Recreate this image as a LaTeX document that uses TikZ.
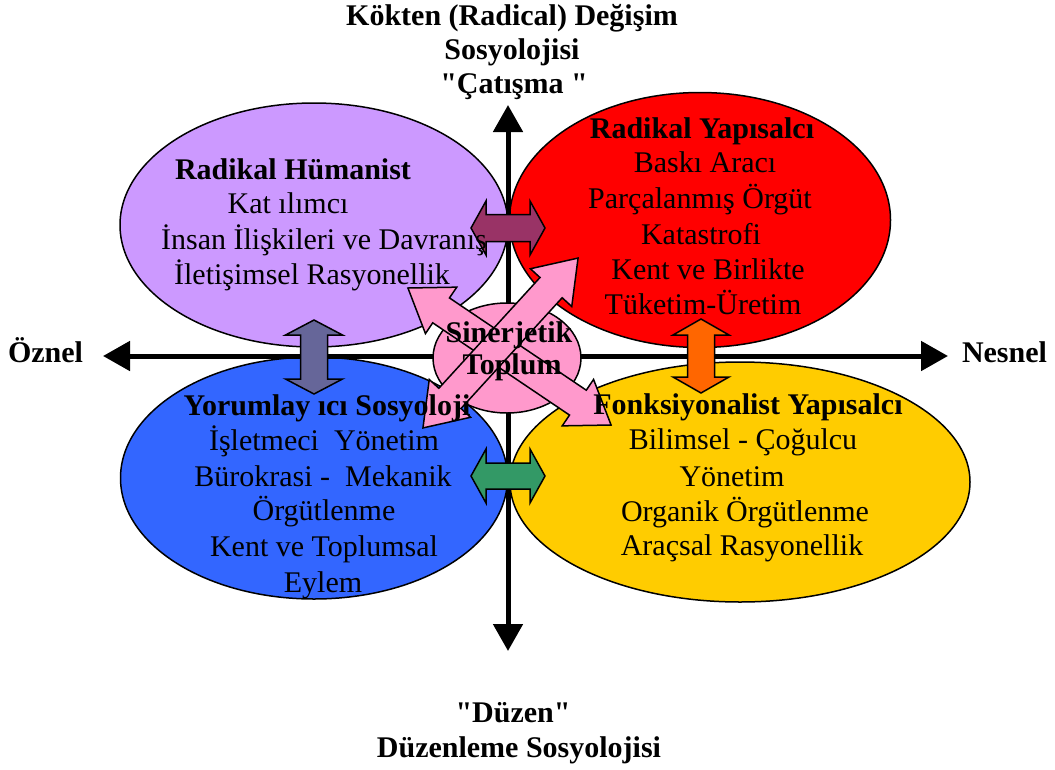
\documentclass[tikz,border=0pt]{standalone}
\usepackage{fontspec}
\setmainfont{Liberation Serif}[Ligatures=TeXOff]
\usetikzlibrary{arrows.meta,shapes.geometric}
\definecolor{cPurple}{HTML}{CC99FF}
\definecolor{cRed}{HTML}{FF0000}
\definecolor{cBlue}{HTML}{3366FF}
\definecolor{cYellow}{HTML}{FFCC00}
\definecolor{cPink}{HTML}{FF99CC}
\definecolor{cMaroon}{HTML}{993366}
\definecolor{cSlate}{HTML}{666699}
\definecolor{cGreen}{HTML}{339966}
\definecolor{cOrange}{HTML}{FF6600}
\tikzset{
  blob/.style={ellipse, draw=black, line width=1.5pt, inner sep=0pt},
  barrow/.style={draw=black, line width=1.5pt, line join=miter},
  axisline/.style={line width=5pt, {Triangle[width=29pt,length=27pt]}-{Triangle[width=29pt,length=27pt]}},
  lbl/.style={anchor=base, inner sep=0pt},
  ttl/.style={lbl, font=\fontsize{30}{35}\selectfont\bfseries},
}
% #1 centre, #2 angle, #3 half length, #4 head length, #5 head half width, #6 shaft half width, #7 colour
\newcommand\myblockarrow[7]{%
  \begin{scope}[shift={#1}, rotate=#2]
    \draw[barrow, fill=#7] (-#3,0) -- (-#3+#4,#5) -- (-#3+#4,#6) -- (#3-#4,#6) -- (#3-#4,#5)
      -- (#3,0) -- (#3-#4,-#5) -- (#3-#4,-#6) -- (-#3+#4,-#6) -- (-#3+#4,-#5) -- cycle;
  \end{scope}}
\begin{document}
\begin{tikzpicture}[x=1pt, y=-1pt, font=\fontsize{30}{35}\selectfont]
\useasboundingbox[fill=white] (0,0) rectangle (1055,769);

% quadrant ellipses
\node[blob, fill=cPurple, minimum width=388pt, minimum height=244pt] (hum) at (314,225) {};
\node[blob, fill=cRed, minimum width=381pt, minimum height=255pt] (rad) at (700,220) {};
\node[blob, fill=cBlue, minimum width=387pt, minimum height=242pt] (yor) at (314,478) {};
\node[blob, fill=cYellow, minimum width=460pt, minimum height=240pt] (fon) at (740,482) {};

% axes
\coordinate (vtop) at (508,105);
\coordinate (vbot) at (508,651);
\coordinate (hleft) at (103,356);
\coordinate (hright) at (948,356);
\draw[axisline] (vtop) -- (vbot);
\draw[axisline] (hleft) -- (hright);

% connecting block arrows
\myblockarrow{(508,228)}{0}{37}{15}{27}{13.5}{cMaroon}
\myblockarrow{(508,476)}{0}{37}{15}{27}{13}{cGreen}
\myblockarrow{(314,357)}{90}{37}{15}{28.5}{13.5}{cSlate}
\myblockarrow{(701,356)}{90}{37}{16}{28}{13.5}{cOrange}

% centre
\node[blob, fill=cPink, minimum width=148pt, minimum height=110pt] (sin) at (507,358) {};
\myblockarrow{(509.5,356.5)}{-34}{122.5}{40}{28}{15}{cPink}
\myblockarrow{(500.5,343)}{47.6}{115}{40}{28}{15}{cPink}

% axis labels
\node[ttl] (t1) at (512,25) {Kökten (Radical) Değişim};
\node[ttl] (t2) at (512,59) {Sosyolojisi};
\node[ttl] (t3) at (514,93) {"Çatışma "};
\node[ttl] (b1) at (513,722) {"Düzen"};
\node[ttl] (b2) at (519,757) {Düzenleme Sosyolojisi};
\node[ttl] (lz) at (45.5,362) {Öznel};
\node[ttl] (ln) at (1004.5,362) {Nesnel};

% Radikal Hümanist
\node[ttl] (h0) at (293,179) {Radikal Hümanist};
\node[lbl] (h1) at (288,213) {Kat ılımcı};
\node[lbl] (h2) at (324,249) {İnsan İlişkileri ve Davranış};
\node[lbl] (h3) at (312,284) {İletişimsel Rasyonellik};

% Radikal Yapısalcı
\node[ttl] (r0) at (702,138) {Radikal Yapısalcı};
\node[lbl] (r1) at (705,172) {Baskı Aracı};
\node[lbl] (r2) at (700,208) {Parçalanmış Örgüt};
\node[lbl] (r3) at (701,244) {Katastrofi};
\node[lbl] (r4) at (708,279) {Kent ve Birlikte};
\node[lbl] (r5) at (703,314) {Tüketim-Üretim};

% Yorumlayıcı
\node[ttl] (y0) at (327,415) {Yorumlay ıcı Sosyoloji};
\node[lbl] (y1) at (324,450) {İşletmeci\ \ Yönetim};
\node[lbl] (y2) at (323,486) {Bürokrasi -\ \ Mekanik};
\node[lbl] (y3) at (324,520) {Örgütlenme};
\node[lbl] (y4) at (324,556) {Kent ve Toplumsal};
\node[lbl] (y5) at (323,592) {Eylem};

% Fonksiyonalist
\node[ttl] (f0) at (748,414) {Fonksiyonalist Yapısalcı};
\node[lbl] (f1) at (743,449) {Bilimsel - Çoğulcu};
\node[lbl] (f2) at (732,486) {Yönetim};
\node[lbl] (f3) at (745,521) {Organik Örgütlenme};
\node[lbl] (f4) at (742,555) {Araçsal Rasyonellik};

% centre label
\node[ttl] (s1) at (509,342) {Sinerjetik};
\node[ttl] (s2) at (512,374) {Toplum};
\end{tikzpicture}
\end{document}
